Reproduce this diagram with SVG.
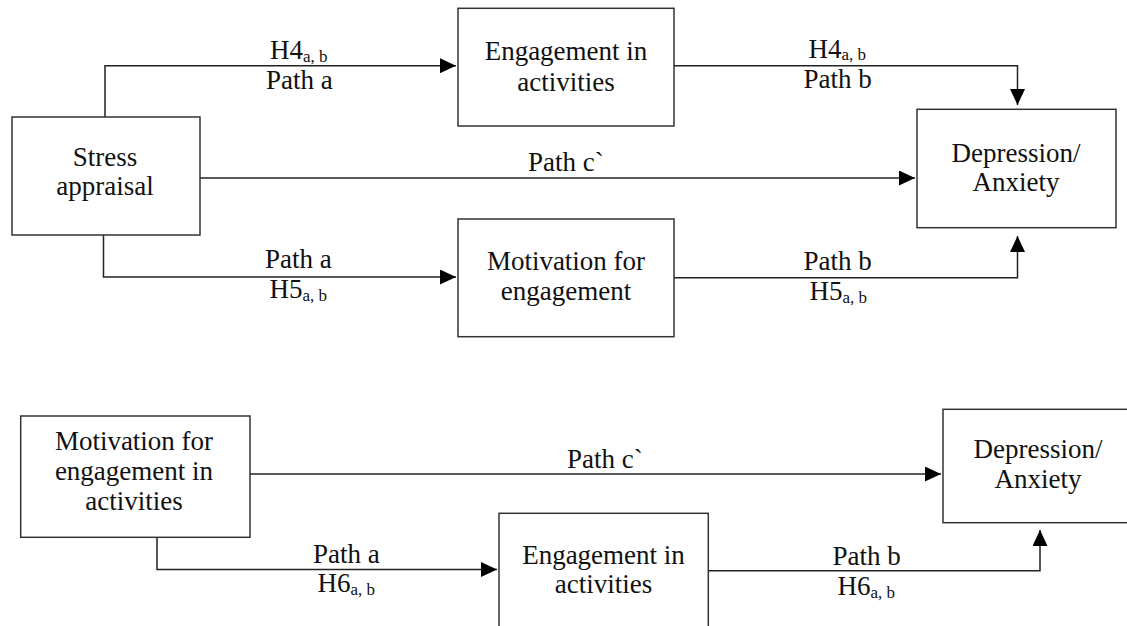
<svg xmlns="http://www.w3.org/2000/svg" width="1127" height="626" viewBox="0 0 1127 626">
<style>
.box{fill:#fff;stroke:#333;stroke-width:1.5}
.t{font-family:"Liberation Serif","Times New Roman",serif;font-size:27px;fill:#111}
.c{text-anchor:middle}
.sub{font-size:17px}
.ln{fill:none;stroke:#222;stroke-width:1.5}
</style>
<defs>
<marker id="ah" markerUnits="userSpaceOnUse" markerWidth="16" markerHeight="15" refX="16" refY="7.5" orient="auto" viewBox="0 0 16 15">
<path d="M0,0 L16,7.5 L0,15 z" fill="#000"/>
</marker>
</defs>
<rect width="1127" height="626" fill="#fff"/>
<g id="connectors">
<path class="ln" d="M105,117 V65.7 H456" marker-end="url(#ah)"/>
<path class="ln" d="M200,178 H915" marker-end="url(#ah)"/>
<path class="ln" d="M103.5,235 V277 H456" marker-end="url(#ah)"/>
<path class="ln" d="M674,65.7 H1017.5 V105" marker-end="url(#ah)"/>
<path class="ln" d="M674,277.7 H1017.5 V236" marker-end="url(#ah)"/>
<path class="ln" d="M250,474 H941" marker-end="url(#ah)"/>
<path class="ln" d="M157,537 V569.5 H497" marker-end="url(#ah)"/>
<path class="ln" d="M708,570.7 H1040 V530" marker-end="url(#ah)"/>
<g class="t">
<text x="270" y="59">H4<tspan class="sub" dy="2.5">a, b</tspan></text>
<text x="266" y="89">Path a</text>
<text x="265" y="268">Path a</text>
<text x="269.5" y="298">H5<tspan class="sub" dy="2.5">a, b</tspan></text>
<text x="808.5" y="57.5">H4<tspan class="sub" dy="2.5">a, b</tspan></text>
<text x="803.5" y="88">Path b</text>
<text x="803.5" y="270">Path b</text>
<text x="809.5" y="300">H5<tspan class="sub" dy="2.5">a, b</tspan></text>
<text x="528" y="171">Path c`</text>
<text x="567" y="468">Path c`</text>
<text x="313" y="562.5">Path a</text>
<text x="317.5" y="592">H6<tspan class="sub" dy="2.5">a, b</tspan></text>
<text x="832.5" y="564.5">Path b</text>
<text x="837.5" y="595">H6<tspan class="sub" dy="2.5">a, b</tspan></text>
</g>
</g>
<g id="stress">
<rect class="box" x="12" y="117" width="188" height="118"/>
<text class="t c" x="105" y="165.5">Stress</text>
<text class="t c" x="105" y="195">appraisal</text>
</g>
<g id="engagement1">
<rect class="box" x="458" y="8.3" width="216" height="117.7"/>
<text class="t c" x="566" y="60">Engagement in</text>
<text class="t c" x="566" y="90.5">activities</text>
</g>
<g id="motivation1">
<rect class="box" x="458" y="219" width="216" height="117.7"/>
<text class="t c" x="566" y="270">Motivation for</text>
<text class="t c" x="566" y="300">engagement</text>
</g>
<g id="depression1">
<rect class="box" x="917" y="109.3" width="199" height="118.4"/>
<text class="t c" x="1016" y="161.7">Depression/</text>
<text class="t c" x="1016" y="191">Anxiety</text>
</g>
<g id="motivation2">
<rect class="box" x="20.7" y="416" width="229.3" height="121.3"/>
<text class="t c" x="134" y="450">Motivation for</text>
<text class="t c" x="134" y="480">engagement in</text>
<text class="t c" x="134" y="510">activities</text>
</g>
<g id="engagement2">
<rect class="box" x="499" y="513.3" width="209.3" height="130"/>
<text class="t c" x="603.5" y="564">Engagement in</text>
<text class="t c" x="603.5" y="593.3">activities</text>
</g>
<g id="depression2">
<rect class="box" x="943" y="409.3" width="191" height="113.4"/>
<text class="t c" x="1038" y="458">Depression/</text>
<text class="t c" x="1038" y="488">Anxiety</text>
</g>
</svg>
